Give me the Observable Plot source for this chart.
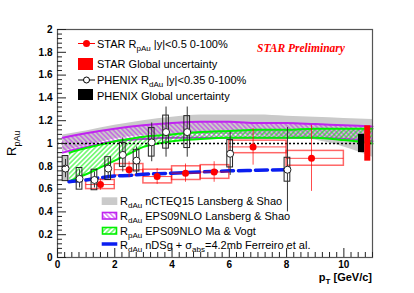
<!DOCTYPE html>
<html><head><meta charset="utf-8">
<script src="https://cdn.jsdelivr.net/npm/d3@7"></script>
<script src="https://cdn.jsdelivr.net/npm/@observablehq/plot@0.6"></script>
<style>
html,body{margin:0;padding:0;background:#fff;}
#chart{width:414px;height:293px;overflow:hidden;}
</style></head><body><div id="chart"></div>
<script>
// ---------------- data ----------------
// STAR R_pAu (red points)
const starPt   = [1.5, 2.5, 3.48, 4.47, 5.47, 6.83, 8.87];
const starBinLo= [1, 2, 3, 4, 5, 6, 8];
const starBinHi= [2, 3, 4, 5, 6, 8, 10];
const starR    = [0.64, 0.77, 0.71, 0.74, 0.75, 0.97, 0.87];
const starStat = [0.05, 0.07, 0.07, 0.08, 0.09, 0.16, 0.29];
const starSys  = [0.04, 0.05, 0.06, 0.06, 0.06, 0.055, 0.065];
// PHENIX R_dAu (open circles)
const phxPt   = [0.28, 0.77, 1.29, 1.77, 2.28, 2.76, 3.29, 3.79, 4.53, 6.03, 8.03];
const phxR    = [0.78, 0.69, 0.68, 0.78, 0.90, 0.85, 1.01, 1.10, 1.10, 0.91, 0.77];
const phxStat = [0.08, 0.08, 0.07, 0.09, 0.15, 0.12, 0.17, 0.22, 0.22, 0.19, 0.37];
const phxSys  = [0.11, 0.095, 0.09, 0.10, 0.105, 0.095, 0.125, 0.145, 0.14, 0.12, 0.105];
// global uncertainties
const globalName = ["PHENIX", "STAR"];
const globalPtLo = [10.51, 10.73];
const globalPtHi = [10.73, 10.94];
const globalErr  = [0.08, 0.155];
// nCTEQ15 Lansberg & Shao (grey band)
const grayPt = [0.18, 1, 2, 3, 4, 5, 6, 7, 8, 9, 10, 11];
const grayHi = [1.075, 1.11, 1.16, 1.20, 1.23, 1.25, 1.25, 1.25, 1.24, 1.23, 1.22, 1.21];
const grayLo = [0.93, 0.98, 1.04, 1.07, 1.08, 1.08, 1.08, 1.07, 1.06, 1.03, 0.97, 0.88];
// EPS09NLO Lansberg & Shao (magenta band)
const magPt = [0.18, 1, 2, 3, 4, 5, 6, 7, 8, 9, 10, 11];
const magHi = [1.05, 1.09, 1.13, 1.16, 1.18, 1.19, 1.19, 1.18, 1.18, 1.17, 1.16, 1.15];
const magLo = [0.92, 0.97, 1.02, 1.04, 1.05, 1.05, 1.05, 1.05, 1.05, 1.05, 1.04, 1.02];
// EPS09NLO Ma & Vogt (green band)
const grnPt = [0.42, 1, 1.5, 2, 2.5, 3, 3.5, 4, 5, 6, 7, 8, 9, 10, 11];
const grnHi = [0.92, 0.96, 0.99, 1.02, 1.04, 1.06, 1.07, 1.08, 1.10, 1.11, 1.12, 1.12, 1.13, 1.13, 1.13];
const grnLo = [0.67, 0.73, 0.79, 0.85, 0.91, 0.97, 1.00, 1.02, 1.04, 1.05, 1.05, 1.05, 1.05, 1.03, 1.00];
// nDSg + sigma_abs Ferreiro (blue dashed)
const bluePt = [0.4, 1, 1.5, 2, 2.5, 3, 3.5, 4, 5, 6, 7, 8];
const blueR  = [0.665, 0.68, 0.70, 0.715, 0.72, 0.73, 0.735, 0.74, 0.75, 0.76, 0.765, 0.77];
// axis ticks
const yTicks = [0, 0.2, 0.4, 0.6, 0.8, 1, 1.2, 1.4, 1.6, 1.8, 2];
const yTickLabels = ["0", "0.2", "0.4", "0.6", "0.8", "1", "1.2", "1.4", "1.6", "1.8", "2"];
const xTicks = [0, 2, 4, 6, 8, 10];
const xTickLabels = ["0", "2", "4", "6", "8", "10"];

// ---------------- build tables ----------------
const star = starPt.map((x, i) => ({x, x1: starBinLo[i], x2: starBinHi[i], y: starR[i], stat: starStat[i], sys: starSys[i]}));
const phx = phxPt.map((x, i) => ({x, y: phxR[i], stat: phxStat[i], sys: phxSys[i]}));
const glob = globalName.map((n, i) => ({n, x1: globalPtLo[i], x2: globalPtHi[i], err: globalErr[i]}));
const gray = grayPt.map((x, i) => ({x, lo: grayLo[i], hi: grayHi[i]}));
const mag = magPt.map((x, i) => ({x, lo: magLo[i], hi: magHi[i]}));
const grn = grnPt.map((x, i) => ({x, lo: grnLo[i], hi: grnHi[i]}));
const blue = bluePt.map((x, i) => ({x, y: blueR[i]}));
const yMinor = d3.range(0, 2.0001, 0.04).filter(v => Math.abs(v / 0.2 - Math.round(v / 0.2)) > 1e-6);
const xMinor = d3.range(0, 11.0001, 0.25).filter(v => Math.abs(v / 2 - Math.round(v / 2)) > 1e-6);

const MAG = "#c024f0", GRN = "#00f000", BLUE = "#0a1ef0", RED = "#ff0000";
const HW = 0.1; // half width of PHENIX systematic boxes (pT)

const plot = Plot.plot({
  width: 414, height: 293,
  marginLeft: 57, marginRight: 42, marginTop: 29, marginBottom: 36,
  x: {domain: [0, 11]},
  y: {domain: [0, 2]},
  style: {fontFamily: "'Liberation Sans', Arial, sans-serif", background: "#fff", color: "#000"},
  marks: [
    Plot.areaY(gray, {x: "x", y1: "lo", y2: "hi", fill: "#cacaca", curve: "monotone-x"}),
    Plot.areaY(mag, {x: "x", y1: "lo", y2: "hi", fill: "url(#hatchMag)", curve: "monotone-x"}),
    Plot.line(mag, {x: "x", y: "hi", stroke: MAG, strokeWidth: 2, curve: "monotone-x"}),
    Plot.line(mag, {x: "x", y: "lo", stroke: MAG, strokeWidth: 2, curve: "monotone-x"}),
    Plot.areaY(grn, {x: "x", y1: "lo", y2: "hi", fill: "url(#hatchGrn)", curve: "monotone-x"}),
    Plot.line(grn, {x: "x", y: "hi", stroke: GRN, strokeWidth: 2, curve: "monotone-x"}),
    Plot.line(grn, {x: "x", y: "lo", stroke: GRN, strokeWidth: 2, curve: "monotone-x"}),
    Plot.ruleY([1], {stroke: "#000", strokeWidth: 1.3, strokeDasharray: "2,2"}),
    Plot.rect(star, {x1: "x1", x2: "x2", y1: d => d.y - d.sys, y2: d => d.y + d.sys, fill: "none", stroke: RED, strokeOpacity: 0.6, strokeWidth: 1.5}),
    Plot.line(blue, {x: "x", y: "y", stroke: BLUE, strokeWidth: 3.5, strokeDasharray: "12,5", curve: "monotone-x"}),
    Plot.ruleX(star, {x: "x", y1: d => d.y - d.stat, y2: d => d.y + d.stat, stroke: RED, strokeOpacity: 0.7, strokeWidth: 1}),
    Plot.ruleY(star, {x1: "x1", x2: "x2", y: "y", stroke: RED, strokeOpacity: 0.7, strokeWidth: 1}),
    Plot.dot(star, {x: "x", y: "y", r: 3.5, fill: RED}),
    Plot.rect(phx.slice(0, 1), {x1: d => d.x - HW, x2: d => d.x + HW, y1: d => d.y - d.sys, y2: d => d.y + d.sys, fill: "#c4c4c4"}),
    Plot.rect(phx, {x1: d => d.x - HW, x2: d => d.x + HW, y1: d => d.y - d.sys, y2: d => d.y + d.sys, fill: "none", stroke: "#222", strokeWidth: 1}),
    Plot.ruleX(phx, {x: "x", y1: d => d.y - d.stat, y2: d => d.y + d.stat, stroke: "#333", strokeWidth: 1}),
    Plot.dot(phx, {x: "x", y: "y", r: 3.5, fill: "#fff", stroke: "#222", strokeWidth: 1}),
    Plot.rect(glob.filter(d => d.n === "PHENIX"), {x1: "x1", x2: "x2", y1: d => 1 - d.err, y2: d => 1 + d.err, fill: "#000"}),
    Plot.rect(glob.filter(d => d.n === "STAR"), {x1: "x1", x2: "x2", y1: d => 1 - d.err, y2: d => 1 + d.err, fill: RED}),
    Plot.frame({stroke: "#555", strokeWidth: 1.2}),
    Plot.axisY(yMinor, {tickSize: -5, tickFormat: () => "", label: null, stroke: "#222"}),
    Plot.axisX(xMinor, {tickSize: -5, tickFormat: () => "", label: null, stroke: "#222"}),
    Plot.axisY(yTicks, {tickSize: -9, tickPadding: 14, tickFormat: (d, i) => yTickLabels[i], label: null, fontSize: 10, fontWeight: "bold", stroke: "#222"}),
    Plot.axisX(xTicks, {tickSize: -9, tickPadding: 12, tickFormat: (d, i) => xTickLabels[i], label: null, fontSize: 10, fontWeight: "bold", stroke: "#222"})
  ]
});
document.getElementById("chart").appendChild(plot);

// ---------------- patterns, labels, legends ----------------
const svg = d3.select(plot);
const defs = svg.insert("defs", ":first-child");
function hatch(id, color, angle) {
  const p = defs.append("pattern").attr("id", id).attr("patternUnits", "userSpaceOnUse")
    .attr("width", 3.4).attr("height", 3.4).attr("patternTransform", `rotate(${angle})`);
  p.append("line").attr("x1", 1.7).attr("y1", -1).attr("x2", 1.7).attr("y2", 5)
    .attr("stroke", color).attr("stroke-width", 0.9);
}
hatch("hatchMag", MAG, -45);
hatch("hatchGrn", GRN, 45);

function richText(g, x, y, parts, opts = {}) {
  const t = g.append("text").attr("x", x).attr("y", y)
    .attr("text-anchor", opts.anchor || "start")
    .attr("font-size", opts.size || 11).attr("fill", opts.fill || "#000")
    .attr("font-family", opts.family || "'Liberation Sans', Arial, sans-serif");
  if (opts.weight) t.attr("font-weight", opts.weight);
  if (opts.style) t.attr("font-style", opts.style);
  if (opts.transform) t.attr("transform", opts.transform);
  let shifted = 0;
  for (const p of parts) {
    const s = t.append("tspan").text(p.t);
    const want = p.sub ? (opts.subShift || 3) : 0;
    if (want !== shifted) { s.attr("dy", want - shifted); shifted = want; }
    if (p.sub) s.attr("font-size", opts.subSize || 8);
  }
  return t;
}

const lg = svg.append("g");
// top legend
lg.append("line").attr("x1", 78).attr("x2", 95).attr("y1", 43.5).attr("y2", 43.5).attr("stroke", RED).attr("stroke-width", 1);
lg.append("circle").attr("cx", 86.5).attr("cy", 43.5).attr("r", 3.5).attr("fill", RED);
richText(lg, 97, 47.5, [{t: "STAR R"}, {t: "pAu", sub: true}, {t: " |y|<0.5 0-100%"}]);
lg.append("rect").attr("x", 78).attr("y", 58).attr("width", 15).attr("height", 12).attr("fill", RED);
richText(lg, 97, 67.5, [{t: "STAR Global uncertainty"}]);
lg.append("line").attr("x1", 78).attr("x2", 95).attr("y1", 80).attr("y2", 80).attr("stroke", "#000").attr("stroke-width", 1);
lg.append("circle").attr("cx", 86.5).attr("cy", 80).attr("r", 3).attr("fill", "#fff").attr("stroke", "#000");
richText(lg, 97, 84, [{t: "PHENIX R"}, {t: "dAu", sub: true}, {t: " |y|<0.35 0-100%"}]);
lg.append("rect").attr("x", 78).attr("y", 89).attr("width", 15).attr("height", 11).attr("fill", "#000");
richText(lg, 97, 99.5, [{t: "PHENIX Global uncertainty"}]);
// STAR Preliminary
richText(lg, 257, 51.5, [{t: "STAR Preliminary"}], {size: 11.5, fill: RED, weight: "bold", style: "italic", family: "'Liberation Serif', 'Times New Roman', serif"});
// bottom legend
lg.append("rect").attr("x", 101.7).attr("y", 197.3).attr("width", 15.6).attr("height", 7.7).attr("fill", "#cacaca");
richText(lg, 120, 205, [{t: "R"}, {t: "dAu", sub: true}, {t: " nCTEQ15 Lansberg & Shao"}]);
lg.append("rect").attr("x", 102.5).attr("y", 212.5).attr("width", 14).attr("height", 6.5).attr("fill", "url(#hatchMag)").attr("stroke", MAG).attr("stroke-width", 1.6);
richText(lg, 120, 220, [{t: "R"}, {t: "dAu", sub: true}, {t: " EPS09NLO Lansberg & Shao"}]);
lg.append("rect").attr("x", 102.5).attr("y", 227.5).attr("width", 14).attr("height", 6.5).attr("fill", "url(#hatchGrn)").attr("stroke", GRN).attr("stroke-width", 1.6);
richText(lg, 120, 235, [{t: "R"}, {t: "pAu", sub: true}, {t: " EPS09NLO Ma & Vogt"}]);
lg.append("line").attr("x1", 101.7).attr("x2", 117.3).attr("y1", 244).attr("y2", 244).attr("stroke", BLUE).attr("stroke-width", 3.5);
richText(lg, 120, 249, [{t: "R"}, {t: "dAu", sub: true}, {t: " nDSg + σ"}, {t: "abs", sub: true}, {t: "=4.2mb Ferreiro et al."}]);

// axis titles
richText(lg, 372, 280.5, [{t: "p"}, {t: "T", sub: true}, {t: " [GeV/c]"}], {size: 11, weight: "bold", subSize: 8, anchor: "end"});
richText(lg, 0, 0, [{t: "R"}, {t: "pAu", sub: true}], {size: 13, subSize: 9, subShift: 4, transform: "translate(15.5,156) rotate(-90)"});
</script></body></html>
